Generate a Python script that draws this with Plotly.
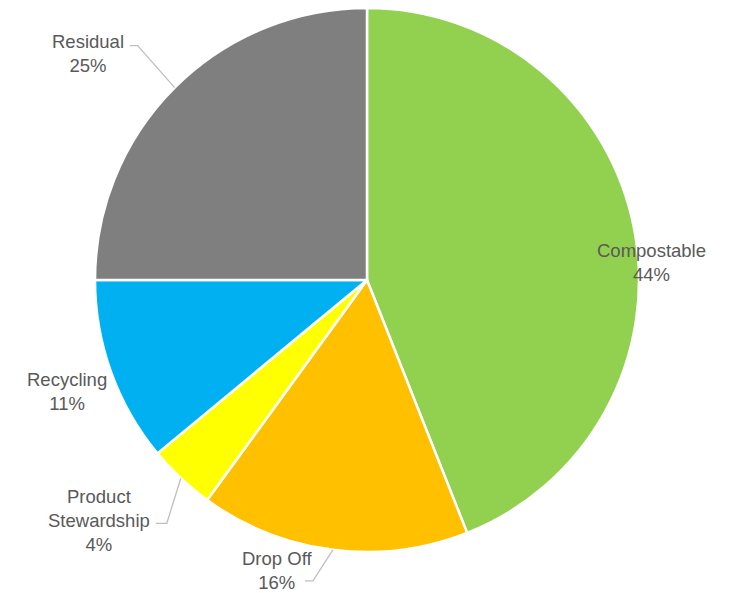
import math
import plotly.graph_objects as go

# ---- data ----
categories = ["Compostable", "Drop Off", "Product<br>Stewardship", "Recycling", "Residual"]
values = [44, 16, 4, 11, 25]
colors = ["#92D050", "#FFC000", "#FFFF00", "#00B0F0", "#7F7F7F"]

# ---- layout / style ----
PAGE_OFF = 8  # default body margin of the html page
W, H = 731 - PAGE_OFF, 593 - PAGE_OFF
CX, CY, R = 367, 280, 272  # pie centre and radius in window pixels
TEXT_COLOR = "#595959"
FONT = "Liberation Sans, Arial, sans-serif"
FONT_SIZE = 18.5

# label offsets from slice-edge midpoint (pixels), and leader elbow offsets (None = no leader)
label_offsets = [(17, 33), (-56, 21), (-82, 42), (-44, 19), (-87, -34)]
leader_elbows = [None, ((-20, 31), (-28, 31)), ((-14, 45), (-25, 45)), None, ((-37, -42), (-45, -42))]


def px(x, y):
    return (x - PAGE_OFF) / W, 1 - (y - PAGE_OFF) / H


d_x0, _ = px(CX - R, 0)
d_x1, _ = px(CX + R, 0)
_, d_y1 = px(0, CY - R)
_, d_y0 = px(0, CY + R)

fig = go.Figure(
    go.Pie(
        labels=categories,
        values=values,
        marker=dict(colors=colors, line=dict(color="white", width=2.5)),
        sort=False,
        direction="clockwise",
        rotation=0,
        textinfo="none",
        hoverinfo="label+percent",
        showlegend=False,
        domain=dict(x=[d_x0, d_x1], y=[d_y0, d_y1]),
    )
)

total = sum(values)
cum = 0
annotations = []
shapes = []
for i, (cat, v) in enumerate(zip(categories, values)):
    mid = (cum + v / 2) / total * 2 * math.pi
    cum += v
    ex = CX + R * math.sin(mid)
    ey = CY - R * math.cos(mid)
    ox, oy = label_offsets[i]
    lx, ly = px(ex + ox, ey + oy)
    pct = round(v / total * 100)
    annotations.append(
        dict(
            x=lx, y=ly, xref="paper", yref="paper",
            text=f"{cat}<br>{pct}%", showarrow=False,
            xanchor="center", yanchor="middle", align="center",
            font=dict(family=FONT, size=FONT_SIZE, color=TEXT_COLOR),
        )
    )
    if leader_elbows[i]:
        (e1x, e1y), (e2x, e2y) = leader_elbows[i]
        p0 = px(ex, ey)
        p1 = px(ex + e1x, ey + e1y)
        p2 = px(ex + e2x, ey + e2y)
        shapes.append(
            dict(
                type="path", xref="paper", yref="paper",
                path=f"M {p0[0]} {p0[1]} L {p1[0]} {p1[1]} L {p2[0]} {p2[1]}",
                line=dict(color="#BFBFBF", width=1.3),
            )
        )

fig.update_layout(
    width=W, height=H,
    margin=dict(l=0, r=0, t=0, b=0),
    paper_bgcolor="white", plot_bgcolor="white",
    annotations=annotations, shapes=shapes,
)

fig.write_html("out.html")
